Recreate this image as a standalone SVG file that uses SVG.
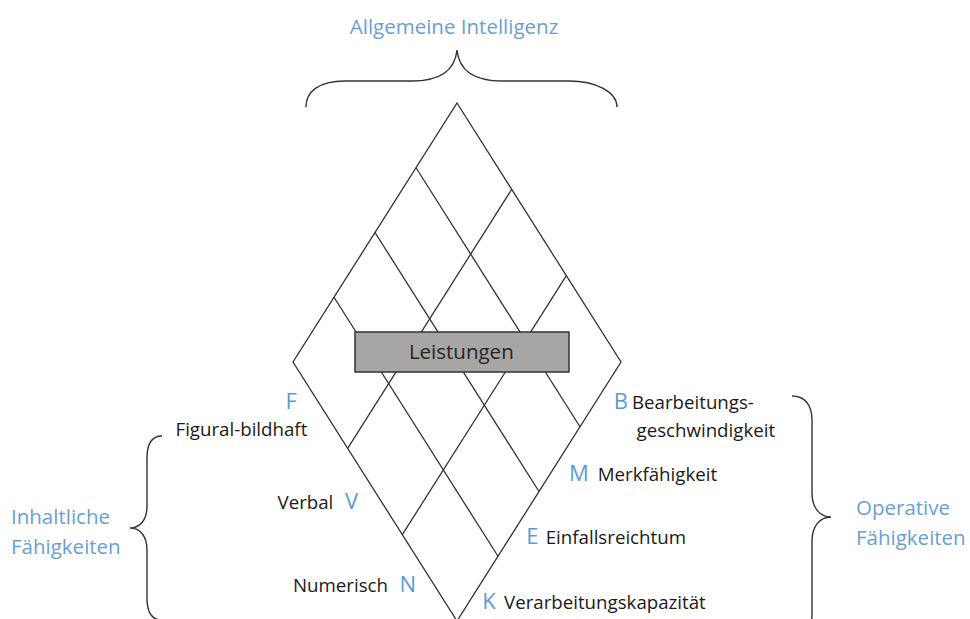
<svg xmlns="http://www.w3.org/2000/svg" width="970" height="619" viewBox="0 0 970 619">
  <style>
    .bg { fill: #ffffff; }
    .edge { fill: none; stroke: #333333; stroke-width: 1.3; }
    .brace { fill: none; stroke: #333333; stroke-width: 1.4; }
    .box { fill: #a8a5a5; stroke: #333333; stroke-width: 1.5; }
    .lbl { font-family: "Open Sans", "Liberation Sans", sans-serif; font-size: 18.7px; fill: #1a1a1a; }
    .code { font-family: "Open Sans", "Liberation Sans", sans-serif; font-size: 22px; fill: #5b9bd5; }
    .head { font-family: "Open Sans", "Liberation Sans", sans-serif; font-size: 20.5px; fill: #6a9fd4; }
    .box-text { font-family: "Open Sans", "Liberation Sans", sans-serif; font-size: 20.5px; fill: #262626; text-anchor: middle; }
  </style>
  <rect class="bg" x="0" y="0" width="970" height="619"/>

  <!-- Rhombus with 4 x 3 internal grid -->
  <g id="connectors">
    <polygon class="edge" points="457,103 621,362 457,621 293,362"/>
    <!-- lines parallel to the upper-right edge -->
    <line class="edge" x1="416" y1="167.75" x2="580" y2="426.75"/>
    <line class="edge" x1="375" y1="232.5" x2="539" y2="491.5"/>
    <line class="edge" x1="334" y1="297.25" x2="498" y2="556.25"/>
    <!-- lines parallel to the upper-left edge -->
    <line class="edge" x1="511.67" y1="189.33" x2="347.67" y2="448.33"/>
    <line class="edge" x1="566.33" y1="275.67" x2="402.33" y2="534.67"/>
  </g>

  <!-- Braces -->
  <g id="brace-top">
    <path class="brace" d="M306,107 C306,92 318,81 345,81 L412,81 C441,81 455,70 457,50 C459,70 473,81 502,81 L569,81 C596,81 617,92 617,107"/>
    <text class="head" x="454" y="34" text-anchor="middle" font-size="21px">Allgemeine Intelligenz</text>
  </g>
  <g id="brace-left">
    <path class="brace" d="M162,436 C152,436 147,443 147,458 L147,506 C147,520 140,528 130,528 C140,528 147,536 147,550 L147,598 C147,613 152,620 162,620"/>
    <text class="head" x="11" y="523.5">Inhaltliche</text>
    <text class="head" x="11" y="553.5">Fähigkeiten</text>
  </g>
  <g id="brace-right">
    <path class="brace" d="M792,396 C804,396 812,404 812,420 L812,493 C812,508 820,517 831,517 C820,517 812,526 812,541 L812,614 C812,630 804,638 792,638"/>
    <text class="head" x="856" y="515">Operative</text>
    <text class="head" x="856" y="545">Fähigkeiten</text>
  </g>

  <!-- Central box -->
  <g id="leistungen">
    <rect class="box" x="355" y="332" width="214" height="40"/>
    <text class="box-text" x="461.3" y="358.5">Leistungen</text>
  </g>

  <!-- Content abilities (lower-left edge) -->
  <g id="content-F">
    <text class="code" x="285.5" y="408.5">F</text>
    <text class="lbl" x="175.5" y="436">Figural-bildhaft</text>
  </g>
  <g id="content-V">
    <text class="lbl" x="277.5" y="508.5">Verbal</text>
    <text class="code" x="345" y="508.5">V</text>
  </g>
  <g id="content-N">
    <text class="lbl" x="293" y="592">Numerisch</text>
    <text class="code" x="399.5" y="592">N</text>
  </g>

  <!-- Operative abilities (lower-right edge) -->
  <g id="op-B">
    <text class="code" x="613.7" y="408.5">B</text>
    <text class="lbl" x="632" y="408.5">Bearbeitungs-</text>
    <text class="lbl" x="636.5" y="436.7">geschwindigkeit</text>
  </g>
  <g id="op-M">
    <text class="code" x="569" y="481">M</text>
    <text class="lbl" x="597.7" y="481">Merkfähigkeit</text>
  </g>
  <g id="op-E">
    <text class="code" x="526.3" y="543.5">E</text>
    <text class="lbl" x="545.7" y="543.5">Einfallsreichtum</text>
  </g>
  <g id="op-K">
    <text class="code" x="482.3" y="609.3">K</text>
    <text class="lbl" x="504" y="609.3">Verarbeitungskapazität</text>
  </g>
</svg>
